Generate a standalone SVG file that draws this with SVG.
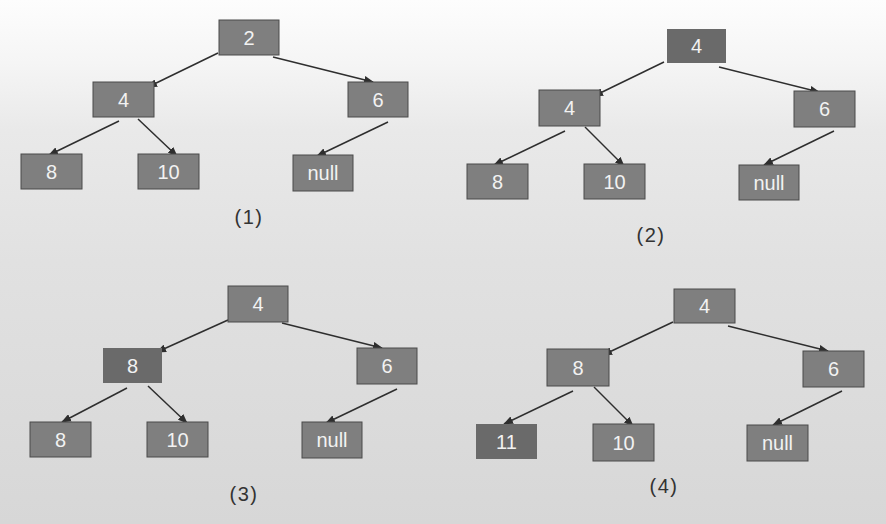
<svg xmlns="http://www.w3.org/2000/svg" width="886" height="524" viewBox="0 0 886 524">
<defs>
<linearGradient id="bg" x1="0" y1="0" x2="0" y2="1">
<stop offset="0" stop-color="#fdfdfd"/>
<stop offset="0.12" stop-color="#f5f5f5"/>
<stop offset="0.25" stop-color="#e9e9e9"/>
<stop offset="0.5" stop-color="#e1e1e1"/>
<stop offset="1" stop-color="#d7d7d7"/>
</linearGradient>
<marker id="ah" markerWidth="10" markerHeight="8" refX="9" refY="4" orient="auto" markerUnits="userSpaceOnUse">
<path d="M0,0 L10,4 L0,8 Z" fill="#2e2e2e"/>
</marker>
</defs>
<style>
.n{fill:#7f7f7f;stroke:#4a4a4a;stroke-width:1}
.d{fill:#6a6a6a;stroke:none}
.t{font-family:"Liberation Sans",Arial,sans-serif;font-size:20px;fill:#f2f2f2;text-anchor:middle}
.lb{font-family:"Liberation Sans",Arial,sans-serif;font-size:20px;fill:#333;text-anchor:middle;letter-spacing:1.5px}
.c line{stroke:#2e2e2e;stroke-width:1.5;marker-end:url(#ah)}
</style>
<rect width="886" height="524" fill="url(#bg)"/>

<g id="connectors" class="c">
<line x1="218" y1="53" x2="148" y2="87"/>
<line x1="273" y1="57" x2="373" y2="82"/>
<line x1="119" y1="121" x2="49" y2="155"/>
<line x1="138" y1="119" x2="177" y2="156"/>
<line x1="388" y1="122" x2="317" y2="156"/>

<line x1="664" y1="62" x2="594" y2="96"/>
<line x1="719" y1="67" x2="819" y2="92"/>
<line x1="565" y1="131" x2="494" y2="165"/>
<line x1="585" y1="127" x2="624" y2="166"/>
<line x1="834" y1="131" x2="764" y2="165"/>

<line x1="228" y1="320" x2="157" y2="352"/>
<line x1="282" y1="323" x2="382" y2="348"/>
<line x1="127" y1="388" x2="62" y2="422"/>
<line x1="148" y1="386" x2="187" y2="423"/>
<line x1="397" y1="389" x2="326" y2="423"/>

<line x1="673" y1="322" x2="603" y2="355"/>
<line x1="728" y1="326" x2="828" y2="351"/>
<line x1="573" y1="391" x2="504" y2="424"/>
<line x1="594" y1="387" x2="633" y2="426"/>
<line x1="842" y1="391" x2="773" y2="425"/>
</g>

<!-- Panel 1 -->
<g id="p1-root"><rect class="n" x="219" y="20" width="60" height="35"/><text class="t" x="249" y="44.5">2</text></g>
<g id="p1-4"><rect class="n" x="93" y="82" width="61" height="35"/><text class="t" x="123.5" y="106.5">4</text></g>
<g id="p1-6"><rect class="n" x="348" y="82" width="60" height="35"/><text class="t" x="378" y="106.5">6</text></g>
<g id="p1-8"><rect class="n" x="21" y="154" width="61" height="35"/><text class="t" x="51.5" y="178.5">8</text></g>
<g id="p1-10"><rect class="n" x="138" y="154" width="61" height="35"/><text class="t" x="168.5" y="178.5">10</text></g>
<g id="p1-null"><rect class="n" x="293" y="155" width="60" height="36"/><text class="t" x="323" y="179.5">null</text></g>
<text class="lb" x="249" y="224">(1)</text>

<!-- Panel 2 -->
<g id="p2-root"><rect class="d" x="667" y="29" width="59" height="34"/><text class="t" x="696.5" y="53">4</text></g>
<g id="p2-4"><rect class="n" x="539" y="90" width="61" height="36"/><text class="t" x="569.5" y="115">4</text></g>
<g id="p2-6"><rect class="n" x="794" y="91" width="61" height="36"/><text class="t" x="824.5" y="116">6</text></g>
<g id="p2-8"><rect class="n" x="467" y="164" width="61" height="35"/><text class="t" x="497.5" y="188.5">8</text></g>
<g id="p2-10"><rect class="n" x="584" y="164" width="61" height="35"/><text class="t" x="614.5" y="188.5">10</text></g>
<g id="p2-null"><rect class="n" x="739" y="165" width="60" height="35"/><text class="t" x="769" y="189.5">null</text></g>
<text class="lb" x="651" y="242">(2)</text>

<!-- Panel 3 -->
<g id="p3-root"><rect class="n" x="228" y="286" width="60" height="36"/><text class="t" x="258" y="311">4</text></g>
<g id="p3-8"><rect class="d" x="103" y="348" width="59" height="35"/><text class="t" x="132.5" y="372.5">8</text></g>
<g id="p3-6"><rect class="n" x="357" y="348" width="60" height="36"/><text class="t" x="387" y="373">6</text></g>
<g id="p3-8b"><rect class="n" x="30" y="422" width="61" height="35"/><text class="t" x="60.5" y="446.5">8</text></g>
<g id="p3-10"><rect class="n" x="147" y="422" width="61" height="35"/><text class="t" x="177.5" y="446.5">10</text></g>
<g id="p3-null"><rect class="n" x="302" y="422" width="60" height="36"/><text class="t" x="332" y="447">null</text></g>
<text class="lb" x="244" y="501">(3)</text>

<!-- Panel 4 -->
<g id="p4-root"><rect class="n" x="674" y="289" width="61" height="34"/><text class="t" x="704.5" y="313">4</text></g>
<g id="p4-8"><rect class="n" x="547" y="349" width="62" height="37"/><text class="t" x="578" y="374.5">8</text></g>
<g id="p4-6"><rect class="n" x="803" y="351" width="61" height="36"/><text class="t" x="833.5" y="376">6</text></g>
<g id="p4-11"><rect class="d" x="476" y="424" width="61" height="35"/><text class="t" x="506.5" y="448.5">11</text></g>
<g id="p4-10"><rect class="n" x="593" y="424" width="61" height="37"/><text class="t" x="623.5" y="449.5">10</text></g>
<g id="p4-null"><rect class="n" x="747" y="425" width="61" height="36"/><text class="t" x="777.5" y="450">null</text></g>
<text class="lb" x="664" y="493">(4)</text>
</svg>
